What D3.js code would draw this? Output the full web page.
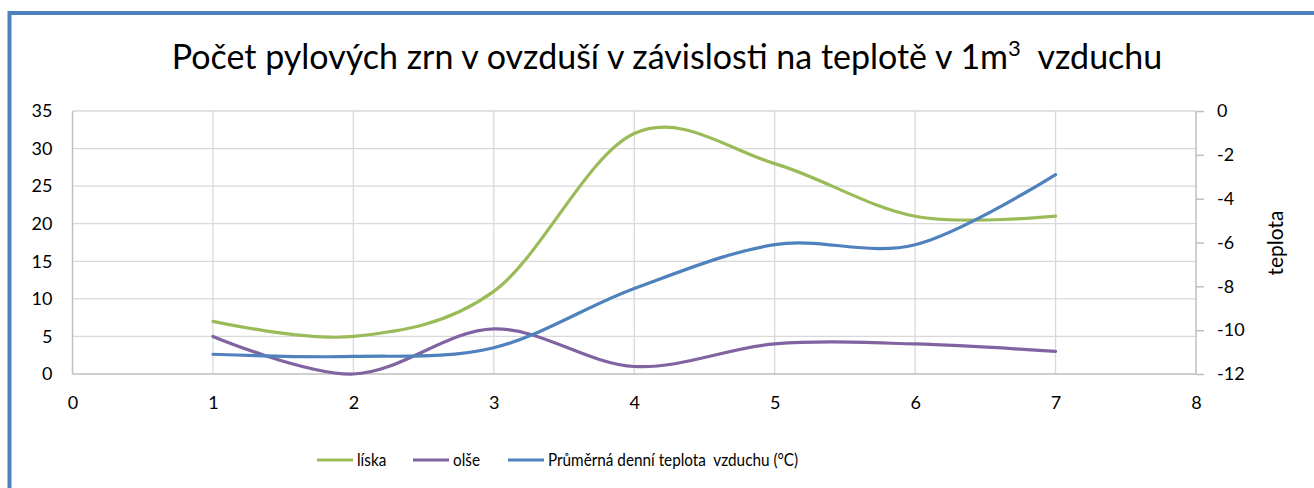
<!DOCTYPE html>
<html>
<head>
<meta charset="utf-8">
<title>Počet pylových zrn</title>
<script src="https://cdnjs.cloudflare.com/ajax/libs/d3/7.8.5/d3.min.js"></script>
<style>
body { margin: 0; background: #fff; }
svg text { font-family: Lato, "Open Sans", sans-serif; fill: #000; }
.grid line { stroke: #d9d9d9; stroke-width: 1.3px; }
.axis path, .axis line { stroke: #bfbfbf; stroke-width: 1.5px; }
.series { fill: none; stroke-width: 3.2px; stroke-linecap: round; }
</style>
</head>
<body>
<script>
// data
var days = [1, 2, 3, 4, 5, 6, 7];
var liska = [7, 5, 11, 32, 28, 21, 21];
var olse = [5, 0, 6, 1, 4, 4, 3];
var teplota = [-11.1, -11.2, -10.8, -8.1, -6.1, -6.1, -2.9];

var xTicks = [0, 1, 2, 3, 4, 5, 6, 7, 8];
var leftTicks = [0, 5, 10, 15, 20, 25, 30, 35];
var rightTicks = [0, -2, -4, -6, -8, -10, -12];

var names = ["líska", "olše", "Průměrná denní teplota  vzduchu (°C)"];
var colors = ["#9bbb59", "#8064a2", "#4f81bd"];

var width = 1314, height = 488;
var plot = { left: 72.5, top: 111, right: 1196, bottom: 374 };

var svg = d3.select("body").append("svg")
  .attr("width", width)
  .attr("height", height);

// chart frame (blue border, only top and left visible)
svg.append("rect")
  .attr("x", 9.5).attr("y", 13)
  .attr("width", 1330).attr("height", 520)
  .attr("fill", "none")
  .attr("stroke", "#4f81bd")
  .attr("stroke-width", 4);

var x = d3.scaleLinear().domain([0, 8]).range([plot.left, plot.right]);
var yL = d3.scaleLinear().domain([0, 35]).range([plot.bottom, plot.top]);
var yR = d3.scaleLinear().domain([-12, 0]).range([plot.bottom, plot.top]);

// gridlines
var grid = svg.append("g").attr("class", "grid");
grid.selectAll(".h").data(leftTicks.filter(function(d) { return d > 0; }))
  .enter().append("line")
  .attr("x1", plot.left).attr("x2", plot.right)
  .attr("y1", function(d) { return yL(d); })
  .attr("y2", function(d) { return yL(d); });
grid.selectAll(".v").data(xTicks.filter(function(d) { return d > 0 && d < 8; }))
  .enter().append("line")
  .attr("y1", plot.top).attr("y2", plot.bottom)
  .attr("x1", function(d) { return x(d); })
  .attr("x2", function(d) { return x(d); });

// axes
var gx = svg.append("g").attr("class", "axis")
  .attr("transform", "translate(0," + plot.bottom + ")")
  .call(d3.axisBottom(x).tickValues(xTicks).tickSize(0).tickPadding(22).tickFormat(d3.format("d")));
gx.selectAll("text").style("font-size", "18px");

var gl = svg.append("g").attr("class", "axis")
  .attr("transform", "translate(" + plot.left + ",0)")
  .call(d3.axisLeft(yL).tickValues(leftTicks).tickSize(0).tickPadding(20));
gl.selectAll("text").style("font-size", "18px");

var gr = svg.append("g").attr("class", "axis")
  .attr("transform", "translate(" + plot.right + ",0)")
  .call(d3.axisRight(yR).tickValues(rightTicks).tickSize(8).tickPadding(13)
    .tickFormat(function(d) { return String(d); }));
gr.selectAll("text").style("font-size", "18px");
gr.select(".domain").attr("d", "M0," + plot.top + "V" + plot.bottom);
gl.select(".domain").attr("d", "M0," + plot.top + "V" + plot.bottom);
gx.select(".domain").attr("d", "M" + plot.left + ",0H" + plot.right);

// lines
var curve = d3.curveCatmullRom.alpha(0);
var lineL = d3.line()
  .x(function(d, i) { return x(days[i]); })
  .y(function(d) { return yL(d); })
  .curve(curve);
var lineR = d3.line()
  .x(function(d, i) { return x(days[i]); })
  .y(function(d) { return yR(d); })
  .curve(curve);

svg.append("path").datum(liska).attr("class", "series")
  .attr("stroke", colors[0]).attr("d", lineL);
svg.append("path").datum(olse).attr("class", "series")
  .attr("stroke", colors[1]).attr("d", lineL);
svg.append("path").datum(teplota).attr("class", "series")
  .attr("stroke", colors[2]).attr("d", lineR);

// title
var title = svg.append("text")
  .attr("x", 667).attr("y", 69)
  .attr("text-anchor", "middle")
  .attr("xml:space", "preserve")
  .style("font-size", "34px");
title.append("tspan").text("Počet pylových zrn v ovzduší v závislosti na teplotě v 1m");
title.append("tspan").attr("dy", -13).style("font-size", "22px").text("3");
title.append("tspan").attr("dy", 13).text("  vzduchu");

// right axis title
svg.append("text")
  .attr("transform", "translate(1283,243) rotate(-90)")
  .attr("text-anchor", "middle")
  .style("font-size", "21px")
  .text("teplota");

// legend
var legendX = [317, 413, 508];
var lg = svg.append("g").selectAll("g").data(names).enter().append("g")
  .attr("transform", function(d, i) { return "translate(" + legendX[i] + ",460)"; });
lg.append("line")
  .attr("x1", 0).attr("x2", 36)
  .attr("stroke", function(d, i) { return colors[i]; })
  .attr("stroke-width", 3.2);
lg.append("text")
  .attr("transform", "translate(40,6) scale(0.85,1)")
  .attr("xml:space", "preserve")
  .style("font-size", "18px")
  .text(function(d) { return d; });
</script>
</body>
</html>
